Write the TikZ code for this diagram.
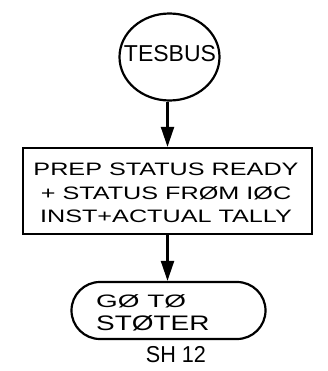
\documentclass[tikz,border=0pt]{standalone}
\usepackage{fontspec}
\setmainfont{Liberation Sans}
\newfontfamily\fboxtxt{Liberation Sans}[FakeStretch=1.4]
\newfontfamily\fgo{Liberation Sans}[FakeStretch=1.55]
\newfontfamily\fsto{Liberation Sans}[FakeStretch=1.33]
\newfontfamily\fsh{Liberation Sans}[FakeStretch=0.94]
\usetikzlibrary{arrows.meta,shapes.geometric,shapes.misc}
\tikzset{
  ln/.style={line width=2.2pt},
  arr/.style={ln,-{Triangle[length=20pt,width=13pt]}},
}
\begin{document}
\begin{tikzpicture}[x=1pt,y=-1pt]
\useasboundingbox (0,0) rectangle (327,371);
\node[ellipse,draw,ln,minimum width=100pt,minimum height=87pt,inner sep=0pt] (circ) at (169.5,57) {};
\node[inner sep=0pt,font=\fontsize{23}{26}\selectfont] (circtxt) at (170,54) {TESBUS};
\node[rectangle,draw,ln,minimum width=289pt,minimum height=86pt,inner sep=0pt] (box) at (167.5,191) {};
\node[inner sep=0pt,align=center,font=\fboxtxt\fontsize{18}{23.5}\selectfont] (boxtxt) at (166,193)
      {PREP STATUS READY\\+ STATUS FRØM IØC\\INST+ACTUAL TALLY};
\node[rounded rectangle,draw,ln,minimum width=194pt,minimum height=57pt,inner sep=0pt] (term) at (168.5,310.5) {};
\node[anchor=west,inner sep=0pt,font=\fgo\fontsize{18}{22}\selectfont] (go) at (96,301) {GØ TØ};
\node[anchor=west,inner sep=0pt,font=\fsto\fontsize{21}{22}\selectfont] (stoter) at (96,323) {STØTER};
\node[inner sep=0pt,font=\fsh\fontsize{23}{26}\selectfont] (sh) at (176,355) {SH 12};
\draw[arr] (box.north |- circ.south) -- (box.north);
\draw[arr] (box.south) -- (box.south |- term.north);
\end{tikzpicture}
\end{document}
